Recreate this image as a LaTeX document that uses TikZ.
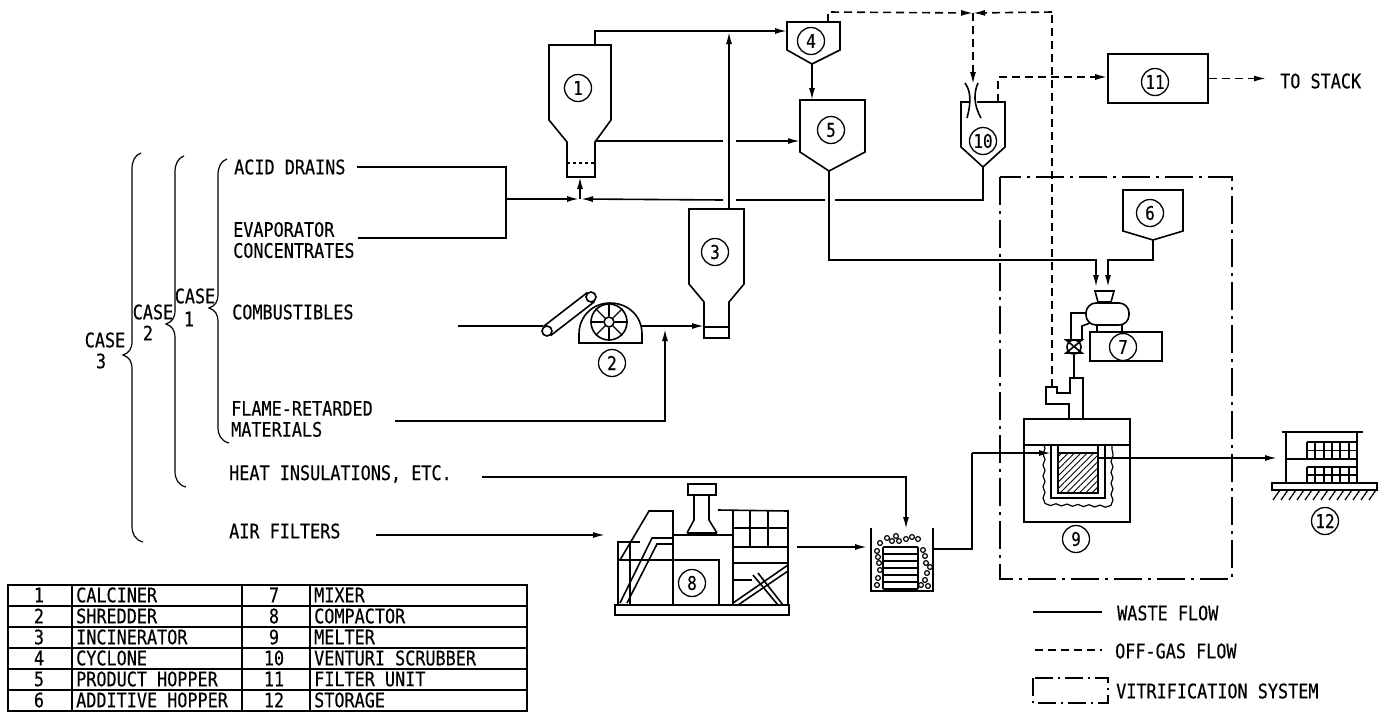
\documentclass[tikz,border=0pt]{standalone}
\usepackage{fontspec}
\setmainfont[FakeStretch=0.84,FakeBold=0.35]{DejaVu Sans Mono}
\usetikzlibrary{arrows.meta,patterns.meta,decorations.pathmorphing}
\tikzset{
  part/.style={line width=1.6pt},
  waste/.style={line width=1.6pt},
  wflow/.style={waste,-{Latex[length=12pt,width=6pt]}},
  gas/.style={line width=1.6pt,dash pattern=on 8pt off 5pt},
  gflow/.style={gas,-{Latex[length=12pt,width=6pt]}},
  vitbox/.style={line width=1.5pt,dash pattern=on 28pt off 6pt on 3pt off 6pt},
  num/.style={draw,circle,line width=1.3pt,minimum size=27pt,inner sep=0pt,font=\fontsize{19}{19}\selectfont},
  lbl/.style={anchor=west,inner sep=0pt,align=left,font=\fontsize{20}{21}\selectfont},
  mid/.style={inner sep=0pt,font=\fontsize{20}{21}\selectfont},
  thinpart/.style={line width=1.2pt},
}
\begin{document}
\begin{tikzpicture}[x=1pt,y=-1pt]
  \useasboundingbox (0,0) rectangle (1390,713);

  \node[lbl] (acid) at (234,167) {ACID DRAINS};
  \node[lbl] (evap) at (233,240) {EVAPORATOR\\CONCENTRATES};
  \node[lbl] (comb) at (232,312) {COMBUSTIBLES};
  \node[lbl] (flame) at (231,419) {FLAME-RETARDED\\MATERIALS};
  \node[lbl] (heat) at (229,474) {HEAT INSULATIONS, ETC.};
  \node[lbl] (air) at (229,531) {AIR FILTERS};
  \node[mid] (cs1) at (195,296) {CASE};
  \node[mid] (cs1n) at (189,319) {1};
  \node[mid] (cs2) at (153,312) {CASE};
  \node[mid] (cs2n) at (148,333) {2};
  \node[mid] (cs3) at (105,340) {CASE};
  \node[mid] (cs3n) at (101,361) {3};
  \foreach \bx/\bt/\bp/\bb in {218/159/308/443,175/156/324/487,132/153/355/542}
    \draw[part,thinpart] (\bx+9,\bt) .. controls (\bx+3,\bt+2) and (\bx,\bt+8) .. (\bx,\bt+16)
      -- (\bx,\bp-14) .. controls (\bx,\bp-6) and (\bx-3,\bp-2) .. (\bx-9,\bp)
      .. controls (\bx-3,\bp+2) and (\bx,\bp+6) .. (\bx,\bp+14)
      -- (\bx,\bb-16) .. controls (\bx,\bb-8) and (\bx+3,\bb-2) .. (\bx+11,\bb);

  \draw[part] (595,45) -- (549,45) -- (549,120) -- (567,142) -- (567,177) -- (595,177) -- (595,142) -- (611,120) -- (611,45) -- cycle;
  \draw[thinpart,dashed] (567,163) -- (595,163);
  \node[num] (n1) at (578,88) {1};
  \coordinate (caltop) at (595,45);
  \coordinate (calside) at (595,141);
  \coordinate (calbot) at (580,177);

  \draw[part] (689,209) -- (744,209) -- (744,284) -- (729,302) -- (729,338) -- (704,338) -- (704,302) -- (689,284) -- cycle;
  \draw[thinpart] (704,327) -- (729,327);
  \node[num] (n3) at (715,252) {3};
  \coordinate (inctop) at (729,209);
  \coordinate (incin) at (704,327);

  \draw[part] (787,22) -- (840,22) -- (840,50) -- (812,64) -- (787,50) -- cycle;
  \node[num] (n4) at (811,41) {4};
  \coordinate (cycin) at (787,32);
  \coordinate (cycbot) at (812,64);
  \coordinate (cyctop) at (828,22);

  \draw[part] (800,100) -- (865,100) -- (865,152) -- (829,171) -- (800,152) -- cycle;
  \node[num] (n5) at (831,130) {5};
  \coordinate (prodtop) at (812,100);
  \coordinate (prodin) at (800,143);
  \coordinate (prodbot) at (829,171);

  \draw[part] (1123,190) -- (1183,190) -- (1183,231) -- (1153,240) -- (1123,231) -- cycle;
  \node[num] (n6) at (1150,213) {6};
  \coordinate (addbot) at (1153,240);

  \draw[part] (969,102) -- (961,102) -- (961,147) -- (983,167) -- (1005,147) -- (1005,102) -- (977,102);
  \draw[part] (965,83) .. controls (970,90) and (972,100) .. (967,118);
  \draw[part] (978,83) .. controls (974,92) and (973,104) .. (981,118);
  \node[num] (n10) at (983,141) {10};
  \coordinate (venbot) at (983,167);
  \coordinate (ventop) at (973,84);
  \coordinate (venout) at (998,102);

  \node[draw,part,minimum width=100pt,minimum height=49pt,inner sep=0pt] (filter) at (1158,78.5) {};
  \node[num] (n11) at (1155,82) {11};
  \node[lbl] (stack) at (1280,81) {TO STACK};
  \coordinate (stackend) at (1266,78.5);

  \node[draw,part,circle,minimum size=10pt,inner sep=0pt] (cva) at (547,331) {};
  \node[draw,part,circle,minimum size=10pt,inner sep=0pt] (cvb) at (591,297) {};
  \draw[part] (cva.127) -- (cvb.127);
  \draw[part] (cva.-53) -- (cvb.-53);
  \draw[part] (579,343) -- (579,334) .. controls (579,316) and (593,303) .. (610,303)
    .. controls (628,303) and (642,316) .. (642,334) -- (642,343) -- cycle;
  \node[draw,part,circle,minimum size=36pt,inner sep=0pt] (wheel) at (609,322) {};
  \node[draw,part,circle,minimum size=10pt,inner sep=0pt] (hub) at (609,322) {};
  \foreach \a in {0,45,...,315}
    \draw[thinpart] (hub.\a) -- (wheel.\a);
  \node[num] (n2) at (612,363) {2};
  \coordinate (shrout) at (641,326);
  \coordinate (shrin) at (458,326);
  \coordinate (shrend) at (543,326);
  \coordinate (joinflame) at (665,329);

  \draw[part] (1095,291) -- (1114,291) -- (1111,302) -- (1098,302) -- cycle;
  \node[draw,part,rounded corners=10pt,minimum width=43pt,minimum height=22pt,inner sep=0pt] (mixbody) at (1107.5,314) {};
  \draw[part] (1097,325) -- (1097,332);
  \draw[part] (1122,325) -- (1122,332);
  \node[draw,part,minimum width=72pt,minimum height=29pt,inner sep=0pt] (mixbase) at (1126,346.5) {};
  \node[num] (n7) at (1123,347) {7};
  \draw[part] (1086,313) -- (1071,313) -- (1071,340);
  \draw[part] (1082,340) -- (1082,326) -- (1090,323);
  \node[draw,part,circle,minimum size=14pt,inner sep=0pt] (valve) at (1074,347) {};
  \draw[part] (1066,340) -- (1082,340) -- (1066,353) -- (1082,353) -- cycle;
  \coordinate (mixa) at (1096,287);
  \coordinate (mixb) at (1108,287);

  \draw[part] (1024,419) rectangle (1130,522);
  \draw[part] (1024,445) -- (1130,445);
  \draw[part] (1069,419) -- (1069,404) -- (1046,404) -- (1046,387) -- (1057,387) -- (1057,393) -- (1070,393) -- (1070,378) -- (1083,378) -- (1083,419);
  \draw[thinpart,decorate,decoration={snake,amplitude=1pt,segment length=11pt}] (1044,445) -- (1044,501) -- (1112,503) -- (1112,445);
  \draw[part] (1051,445) -- (1051,498) -- (1105,498) -- (1105,445);
  \draw[part] (1058,445) -- (1058,453);
  \draw[part] (1098,445) -- (1098,453);
  \draw[part,pattern={Lines[angle=45,distance=4.5pt,line width=.9pt]}] (1058,453) rectangle (1098,493);
  \node[num] (n9) at (1076,539) {9};
  \coordinate (neck) at (1074,378);
  \coordinate (melin) at (1051,453);
  \coordinate (melout) at (1098,458);
  \coordinate (melgas) at (1052,387);

  \draw[part] (1282,432) -- (1363,432);
  \draw[part] (1286,432) -- (1286,483);
  \draw[part] (1357,432) -- (1357,483);
  \draw[part] (1286,459) -- (1357,459);
  \draw[part] (1272,483) rectangle (1377,490);
  \foreach \gy in {442,450.5,459,467,475,483}
    \draw[thinpart] (1307,\gy) -- (1357,\gy);
  \foreach \gx in {1307,1315,1324,1332,1340,1349,1357} {
    \draw[thinpart] (\gx,442) -- (\gx,459);
    \draw[thinpart] (\gx,467) -- (\gx,483);
  }
  \foreach \hx in {1280,1288,...,1376}
    \draw[thinpart] (\hx,490) -- (\hx-7,500);
  \node[num] (n12) at (1325,521) {12};
  \coordinate (storin) at (1277,458);

  \draw[part] (615,605) rectangle (789,615);
  \draw[part] (733,605) -- (733,511);
  \draw[part] (788,605) -- (788,511) -- (718,510);
  \foreach \fy in {528,547,563}
    \draw[part] (733,\fy) -- (788,\fy);
  \draw[part] (750,511) -- (750,547);
  \draw[part] (768,511) -- (768,547);
  \draw[part] (733,603) -- (788,565);
  \draw[part] (738,605) -- (788,571);
  \draw[part] (753,575) -- (778,605);
  \draw[part] (758,573) -- (783,605);
  \draw[part] (733,580) -- (752,580);
  \draw[part] (673,605) -- (673,511) -- (649,511) -- (620,560);
  \draw[part] (673,535) -- (733,535);
  \draw[part] (673,560) -- (719,560) -- (719,605);
  \draw[part] (688,484) rectangle (716,495);
  \draw[part] (694,495) -- (694,520) -- (687,533);
  \draw[part] (709,495) -- (709,520) -- (717,533);
  \draw[part] (687,533) -- (717,533);
  \draw[part] (618,605) -- (618,542) -- (640,542);
  \draw[part] (630,542) -- (630,605);
  \draw[part] (618,560) -- (673,560);
  \draw[part] (620,603) -- (652,538) -- (673,538);
  \draw[part] (627,603) -- (657,544) -- (673,544);
  \node[num] (n8) at (692,583) {8};
  \coordinate (compin) at (605,535);
  \coordinate (compout) at (797,547);

  \draw[part] (871,528) -- (871,591) -- (933,591) -- (933,528);
  \foreach \sy in {547,554,...,589}
    \draw[part] (883,\sy) -- (918,\sy);
  \draw[thinpart] (883,547) -- (883,589);
  \draw[thinpart] (918,547) -- (918,589);
  \foreach \px/\py in {880/543,887/538,896/536,892/541,899/541,906/539,912/537,918/539,877/551,878/557,879/563,880/570,878/578,877/585,923/550,925/556,926/563,930/567,927/573,925/580,921/585,928/586}
    \draw[thinpart] (\px,\py) circle (2.4);
  \coordinate (drumin) at (867,547);
  \coordinate (drumtop) at (905,529);
  \coordinate (drumout) at (933,549);

  \coordinate (jsw) at (506,167);
  \coordinate (jse) at (506,238);
  \coordinate (jmid) at (506,199);
  \coordinate (jmerge) at (580,199);
  \coordinate (jtee) at (729,32);
  \coordinate (jbend) at (595,31);
  \coordinate (jgas) at (973,13);

  \draw[waste] ([xshift=11pt]acid.east) -- (jsw) -- (jse) -- ([xshift=3pt]evap.east |- jse);
  \draw[wflow] (jmid) -- ([xshift=-1pt]jmerge);
  \draw[waste] (venbot) -- (983,200) -- (835,200);
  \draw[waste] (825,200) -- (736,200);
  \draw[wflow] (723,200) -- ([xshift=1pt]jmerge);
  \draw[wflow] (jmerge) -- (calbot);
  \draw[wflow] (caltop) -- (jbend) -- (cycin |- jbend);
  \draw[wflow] (inctop) -- (jtee);
  \draw[wflow] (cycbot) -- (prodtop);
  \draw[waste] (calside) -- (723,141);
  \draw[wflow] (736,141) -- (prodin |- 736,141);
  \draw[waste] (shrin) -- (shrend);
  \draw[wflow] (shrout) -- (incin |- shrout);
  \draw[wflow] ([xshift=22pt]flame.east |- 665,421) -- (665,421) -- (joinflame);
  \draw[wflow] (prodbot) -- (829,260) -- (1096,260) -- (mixa);
  \draw[wflow] (addbot) -- (1153,260) -- (1108,260) -- (mixb);
  \draw[waste] (valve.south) -- (neck);
  \draw[wflow] ([xshift=30pt]heat.east |- 906,477) -- (906,477) -- (906,529);
  \draw[wflow] ([xshift=35pt]air.east |- compin) -- (compin);
  \draw[wflow] (compout) -- (drumin);
  \draw[waste] (drumout) -- (972,549) -- (972,453);
  \draw[wflow] (972,453) -- (melin);
  \draw[wflow] (melout) -- (storin);

  \draw[gflow] (cyctop) -- (828,12) -- (jgas);
  \draw[gflow] (1052,12) -- (jgas);
  \draw[gas] (melgas) -- (1052,12);
  \draw[gflow] (jgas) -- (ventop);
  \draw[gflow] (venout) -- (998,77) -- (filter.west |- 998,77);
  \draw[gflow] (filter.east) -- (stackend);

  \draw[vitbox] (1000,177) rectangle (1232,579);

  \draw[thinpart] (8,585) rectangle (527,711);
  \foreach \ty in {606,627,648,669,690}
    \draw[thinpart] (8,\ty) -- (527,\ty);
  \foreach \tx in {72,242,310}
    \draw[thinpart] (\tx,585) -- (\tx,711);
  \foreach \ia/\ib/\ic/\id [count=\r] in {1/CALCINER/7/MIXER,2/SHREDDER/8/COMPACTOR,3/INCINERATOR/9/MELTER,4/CYCLONE/10/VENTURI SCRUBBER,5/PRODUCT HOPPER/11/FILTER UNIT,6/ADDITIVE HOPPER/12/STORAGE} {
    \node[mid] (ta\r) at (39,574+21*\r) {\ia};
    \node[lbl] (tb\r) at (76,574+21*\r) {\ib};
    \node[mid] (tc\r) at (274,574+21*\r) {\ic};
    \node[lbl] (td\r) at (314,574+21*\r) {\id};
  }

  \coordinate (lwa) at (1033,612);
  \coordinate (lwb) at (1102,612);
  \coordinate (lga) at (1035,650);
  \coordinate (lgb) at (1102,650);
  \draw[waste] (lwa) -- (lwb);
  \draw[gas] (lga) -- (lgb);
  \draw[vitbox,dash pattern=on 18pt off 5pt on 2pt off 5pt] (1033,678) rectangle (1108,703);
  \node[lbl] (lw) at (1117,613) {WASTE FLOW};
  \node[lbl] (lg) at (1115,651) {OFF-GAS FLOW};
  \node[lbl] (lv) at (1116,691) {VITRIFICATION SYSTEM};
\end{tikzpicture}
\end{document}
